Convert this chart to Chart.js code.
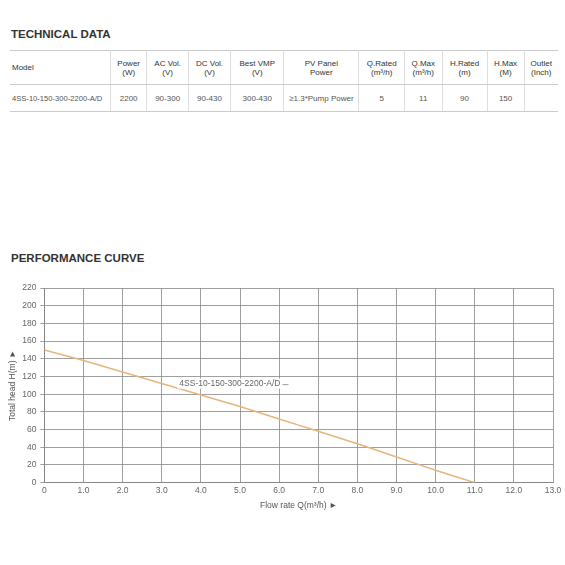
<!DOCTYPE html>
<html><head><meta charset="utf-8">
<script src="https://cdn.jsdelivr.net/npm/chart.js@4/dist/chart.umd.min.js"></script>
<style>
body{margin:0;background:#fff;font-family:"Liberation Sans",Arial,sans-serif;color:#444;width:565px;height:565px;position:relative;overflow:hidden}
h2{position:absolute;left:11px;margin:0;font-size:11.5px;font-weight:bold;color:#333}
table{position:absolute;left:10px;top:50px;width:548px;border-collapse:collapse;font-size:8px;color:#555}
td{text-align:center;padding:0 2px;border-right:1px solid #ddd;white-space:nowrap}
td:last-child{border-right:none}
tr.h td{height:33px;border-top:1px solid #ccc;border-bottom:1px solid #ccc;color:#333}
tr.d td{height:26px;border-bottom:1px solid #ccc}
#wrap{position:absolute;left:0;top:279px;width:565px;height:236px}
</style></head><body>
<h2 style="top:28px">TECHNICAL DATA</h2>
<table>
<tr class="h"><td style="text-align:left;width:96px">Model</td><td>Power<br>(W)</td><td>AC Vol.<br>(V)</td><td>DC Vol.<br>(V)</td><td>Best VMP<br>(V)</td><td style="width:70px">PV Panel<br>Power</td><td>Q.Rated<br>(m³/h)</td><td>Q.Max<br>(m³/h)</td><td>H.Rated<br>(m)</td><td>H.Max<br>(M)</td><td>Outlet<br>(Inch)</td></tr>
<tr class="d"><td style="text-align:left;font-size:7.6px">4SS-10-150-300-2200-A/D</td><td>2200</td><td>90-300</td><td>90-430</td><td>300-430</td><td>≥1.3*Pump Power</td><td>5</td><td>11</td><td>90</td><td>150</td><td></td></tr>
</table>
<h2 style="top:252px">PERFORMANCE CURVE</h2>
<div id="wrap"><canvas id="c"></canvas></div>
<script>
const flow=[0,1,2,3,4,5,6,7,8,9,10,11];
const head=[150,138,125,112,99,86,72,58,44,29,14,0];
const seriesName="4SS-10-150-300-2200-A/D";
const xTicks=["0","1.0","2.0","3.0","4.0","5.0","6.0","7.0","8.0","9.0","10.0","11.0","12.0","13.0"];
const labelPlugin={id:'lbl',afterDatasetsDraw(ch){
 const {ctx,scales:{x,y}}=ch;ctx.save();
 ctx.font='8.5px "Liberation Sans",Arial';ctx.textBaseline='middle';
 const px=x.getPixelForValue(3.45),py=y.getPixelForValue(112);
 const w=ctx.measureText(seriesName).width;
 ctx.fillStyle='#fff';ctx.fillRect(px-2,py-5,w+4,10);
 ctx.fillStyle='#666';ctx.fillText(seriesName,px,py);
 ctx.strokeStyle='#888';ctx.lineWidth=0.8;ctx.beginPath();ctx.moveTo(px+w+2,py+1);ctx.lineTo(px+w+8,py+1);ctx.stroke();
 ctx.restore();}};
new Chart(document.getElementById('c'),{type:'line',
 data:{datasets:[{data:flow.map((f,i)=>({x:f,y:head[i]})),borderColor:'#e6b57c',borderWidth:1.5,pointRadius:0,tension:0.2}]},
 options:{responsive:true,maintainAspectRatio:false,animation:false,
  layout:{padding:{left:4,right:12,top:6,bottom:0}},
  plugins:{legend:{display:false},tooltip:{enabled:false}},
  scales:{
   x:{type:'linear',min:0,max:13,ticks:{stepSize:1,color:'#666',font:{size:8.5},callback:(v)=>xTicks[v]},
      grid:{color:'#888',lineWidth:0.8,drawTicks:false},border:{color:'#888'},
      title:{display:true,text:'Flow rate Q(m³/h) ►',color:'#555',font:{size:8.5},padding:{top:2}}},
   y:{min:0,max:220,ticks:{stepSize:20,color:'#666',font:{size:8.5},padding:4},
      grid:{color:'#888',lineWidth:0.8,drawTicks:true,tickLength:4},border:{color:'#888'},
      title:{display:true,text:'Total head H(m) ►',color:'#555',font:{size:8.5},padding:{bottom:0}}}
  }},plugins:[labelPlugin]});
</script></body></html>
